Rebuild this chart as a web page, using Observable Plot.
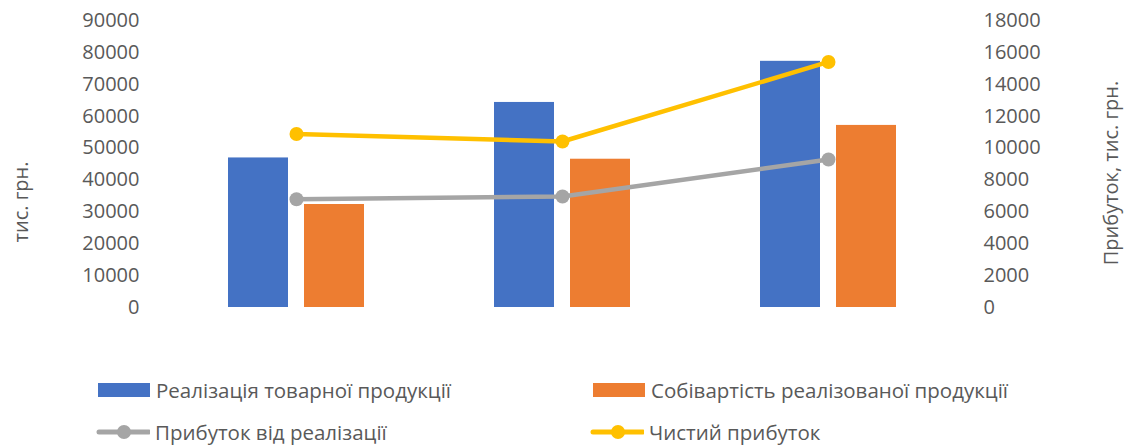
<!DOCTYPE html>
<html>
<head>
<meta charset="utf-8">
<script src="https://cdn.jsdelivr.net/npm/d3@7"></script>
<script src="https://cdn.jsdelivr.net/npm/@observablehq/plot@0.6"></script>
<style>
  html, body { margin: 0; padding: 0; background: #fff; }
  #chart { width: 1124px; }
  .legend { position: relative; width: 1124px; height: 97px; font-family: "Open Sans", sans-serif; font-size: 20.5px; color: #595959; }
  .item { position: absolute; display: flex; align-items: center; height: 24px; white-space: nowrap; }
  .item svg { margin-right: 5px; }
</style>
</head>
<body>
<div id="chart"></div>
<script>
// Periods (categories are not labelled on the axis)
const periods = ["1", "2", "3"];

// Left axis series, тис. грн.
const revenue = [46900, 64300, 77200];   // Реалізація товарної продукції
const cost = [32300, 46500, 57100];      // Собівартість реалізованої продукції

// Right axis series, тис. грн.
const salesProfit = [6790, 6960, 9280];  // Прибуток від реалізації
const netProfit = [10880, 10410, 15400]; // Чистий прибуток

const leftTicks = [0, 10000, 20000, 30000, 40000, 50000, 60000, 70000, 80000, 90000];
const rightTicks = [0, 2000, 4000, 6000, 8000, 10000, 12000, 14000, 16000, 18000];

const names = {
  revenue: "Реалізація товарної продукції",
  cost: "Собівартість реалізованої продукції",
  salesProfit: "Прибуток від реалізації",
  netProfit: "Чистий прибуток"
};
const colors = { revenue: "#4472C4", cost: "#ED7D31", salesProfit: "#A5A5A5", netProfit: "#FFC000" };

// The right axis shares the left scale: 18000 on the right sits level with 90000 on the left
const ratio = 90000 / 18000;

const barRows = (vals) => periods.map((p, i) => ({ period: p, value: vals[i] }));
const lineRows = (vals) => periods.map((p, i) => ({ period: p, value: vals[i] * ratio }));

const textColor = "#595959";
const font = "'Open Sans', sans-serif";

const chart = Plot.plot({
  width: 1124,
  height: 350,
  marginLeft: 162,
  marginRight: 163,
  marginTop: 20,
  marginBottom: 43,
  style: { fontFamily: font, fontSize: "20px", color: textColor, background: "#fff" },
  x: { type: "band", domain: periods, paddingInner: 0.775, paddingOuter: 0.3875, axis: null },
  y: { domain: [0, 90000], axis: null },
  marks: [
    Plot.axisY({ ticks: leftTicks, tickSize: 0, tickPadding: 23, tickFormat: d => String(d), label: null, fill: textColor, fontSize: 20 }),
    Plot.axisY({ anchor: "right", ticks: rightTicks.map(t => t * ratio), tickSize: 0, tickPadding: 22, tickFormat: d => String(Math.round(d / ratio)), label: null, fill: textColor, fontSize: 20 }),
    Plot.text(["тис. грн."], { frameAnchor: "left", rotate: -90, dx: -141, dy: 38, fill: textColor, fontSize: 20, textAnchor: "middle" }),
    Plot.text(["Прибуток, тис. грн."], { frameAnchor: "right", rotate: -90, dx: 150, dy: 9, fill: textColor, fontSize: 20, textAnchor: "middle" }),
    Plot.barY(barRows(revenue), { x: "period", y: "value", fill: colors.revenue, dx: -38 }),
    Plot.barY(barRows(cost), { x: "period", y: "value", fill: colors.cost, dx: 38 }),
    Plot.line(lineRows(salesProfit), { x: "period", y: "value", stroke: colors.salesProfit, strokeWidth: 4.5, strokeLinejoin: "round", strokeLinecap: "round" }),
    Plot.dot(lineRows(salesProfit), { x: "period", y: "value", fill: colors.salesProfit, r: 7 }),
    Plot.line(lineRows(netProfit), { x: "period", y: "value", stroke: colors.netProfit, strokeWidth: 4.5, strokeLinejoin: "round", strokeLinecap: "round" }),
    Plot.dot(lineRows(netProfit), { x: "period", y: "value", fill: colors.netProfit, r: 7 })
  ]
});
document.getElementById("chart").appendChild(chart);

// Legend below the chart
const legend = document.createElement("div");
legend.className = "legend";
const items = [
  { key: "revenue", kind: "rect", left: 97, top: 28 },
  { key: "cost", kind: "rect", left: 592, top: 28 },
  { key: "salesProfit", kind: "line", left: 96, top: 70 },
  { key: "netProfit", kind: "line", left: 590, top: 70 }
];
for (const it of items) {
  const el = document.createElement("div");
  el.className = "item";
  el.style.left = it.left + "px";
  el.style.top = it.top + "px";
  const sw = d3.create("svg").attr("width", 54).attr("height", 24);
  if (it.kind === "rect") {
    sw.append("rect").attr("x", 1).attr("y", 5).attr("width", 52).attr("height", 14).attr("fill", colors[it.key]);
  } else {
    sw.append("line").attr("x1", 3).attr("x2", 53).attr("y1", 12).attr("y2", 12)
      .attr("stroke", colors[it.key]).attr("stroke-width", 5).attr("stroke-linecap", "round");
    sw.append("circle").attr("cx", 28).attr("cy", 12).attr("r", 7).attr("fill", colors[it.key]);
  }
  el.appendChild(sw.node());
  const label = document.createElement("span");
  label.textContent = names[it.key];
  el.appendChild(label);
  legend.appendChild(el);
}
document.body.appendChild(legend);
</script>
</body>
</html>
